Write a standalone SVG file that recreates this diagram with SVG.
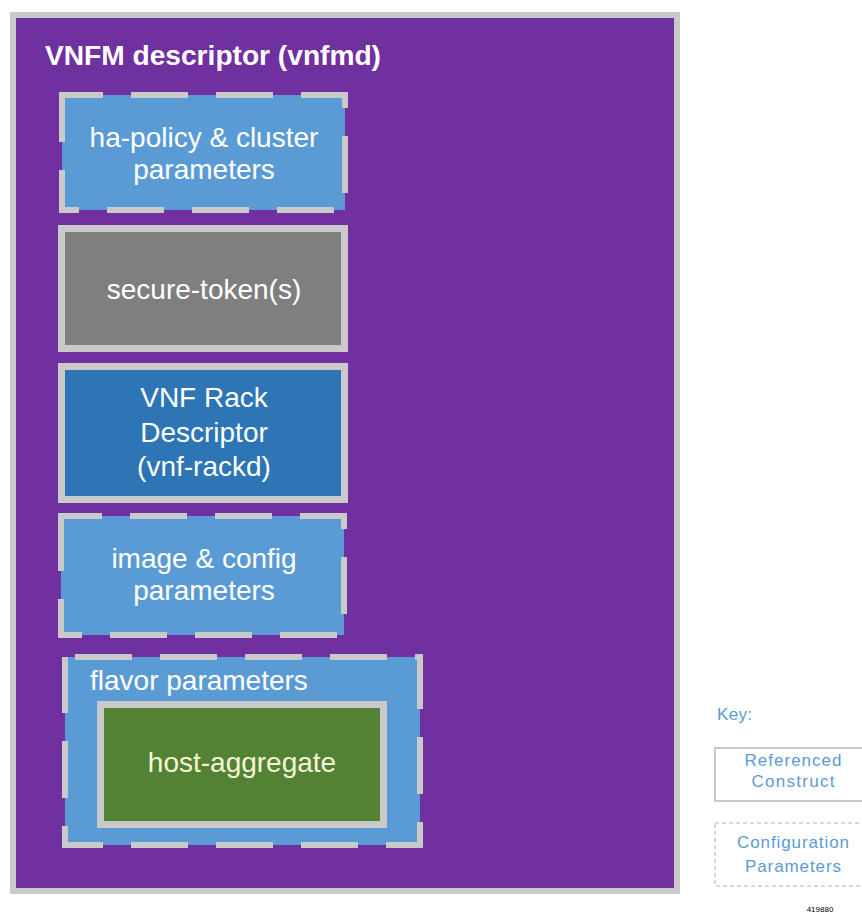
<svg xmlns="http://www.w3.org/2000/svg" width="862" height="915" viewBox="0 0 862 915">
<style>
.t{font-family:"Liberation Sans",Arial,sans-serif;fill:#ffffff;text-anchor:middle;font-size:28px}
.cfg{fill:#5b9bd5;stroke:#c9c9c9;stroke-width:6;stroke-dasharray:57 28}
.ref{stroke:#c9c9c9;stroke-width:7}
.k{font-family:"Liberation Sans",Arial,sans-serif;fill:#5b9bd5;text-anchor:middle;font-size:17px}
</style>
<rect width="862" height="915" fill="#ffffff"/>
<g id="vnfmd">
<rect x="13" y="15" width="664" height="876" fill="#7030a0" stroke="#c9c9c9" stroke-width="6"/>
<text x="45" y="65" font-family="'Liberation Sans',Arial,sans-serif" font-weight="bold" font-size="28" fill="#ffffff" textLength="336" lengthAdjust="spacingAndGlyphs">VNFM descriptor (vnfmd)</text>
</g>
<g id="ha-policy">
<rect class="cfg" x="62" y="95" width="283" height="115" stroke-dashoffset="16"/>
<text class="t" x="204" y="147">ha-policy &amp; cluster</text>
<text class="t" x="204" y="179">parameters</text>
</g>
<g id="secure-token">
<rect class="ref" x="61.5" y="228.5" width="283" height="120" fill="#7f7f7f"/>
<text class="t" x="204" y="299">secure-token(s)</text>
</g>
<g id="vnf-rackd">
<rect class="ref" x="61.5" y="366.5" width="283" height="133" fill="#2e75b6"/>
<text class="t" x="204" y="407">VNF Rack</text>
<text class="t" x="204" y="442">Descriptor</text>
<text class="t" x="204" y="476">(vnf-rackd)</text>
</g>
<g id="image-config">
<rect class="cfg" x="61" y="516" width="283" height="119" stroke-dashoffset="16"/>
<text class="t" x="204" y="568">image &amp; config</text>
<text class="t" x="204" y="600">parameters</text>
</g>
<g id="flavor">
<rect class="cfg" x="65" y="657" width="355" height="188" stroke-dashoffset="75"/>
<text class="t" x="90" y="690" style="text-anchor:start">flavor parameters</text>
</g>
<g id="host-aggregate">
<rect class="ref" x="100.5" y="704.5" width="283" height="120" fill="#548235"/>
<text class="t" x="242" y="772" style="fill:#f4f6d6">host-aggregate</text>
</g>
<g id="connectors"></g>
<g id="key">
<text x="717" y="720" font-family="'Liberation Sans',Arial,sans-serif" font-size="17" fill="#5b9bd5" textLength="35">Key:</text>
<rect x="715" y="748" width="160" height="53" fill="#ffffff" stroke="#c9c9c9" stroke-width="2"/>
<text class="k" x="793" y="766" textLength="97">Referenced</text>
<text class="k" x="793" y="787" textLength="83">Construct</text>
<rect x="715" y="823" width="160" height="63" fill="#ffffff" stroke="#c9c9c9" stroke-width="1.5" stroke-dasharray="4 3"/>
<text class="k" x="793" y="848" textLength="112">Configuration</text>
<text class="k" x="793" y="872" textLength="96">Parameters</text>
<text x="820" y="912" font-family="'Liberation Sans',Arial,sans-serif" font-size="8" fill="#000000" text-anchor="middle">419880</text>
</g>
</svg>
